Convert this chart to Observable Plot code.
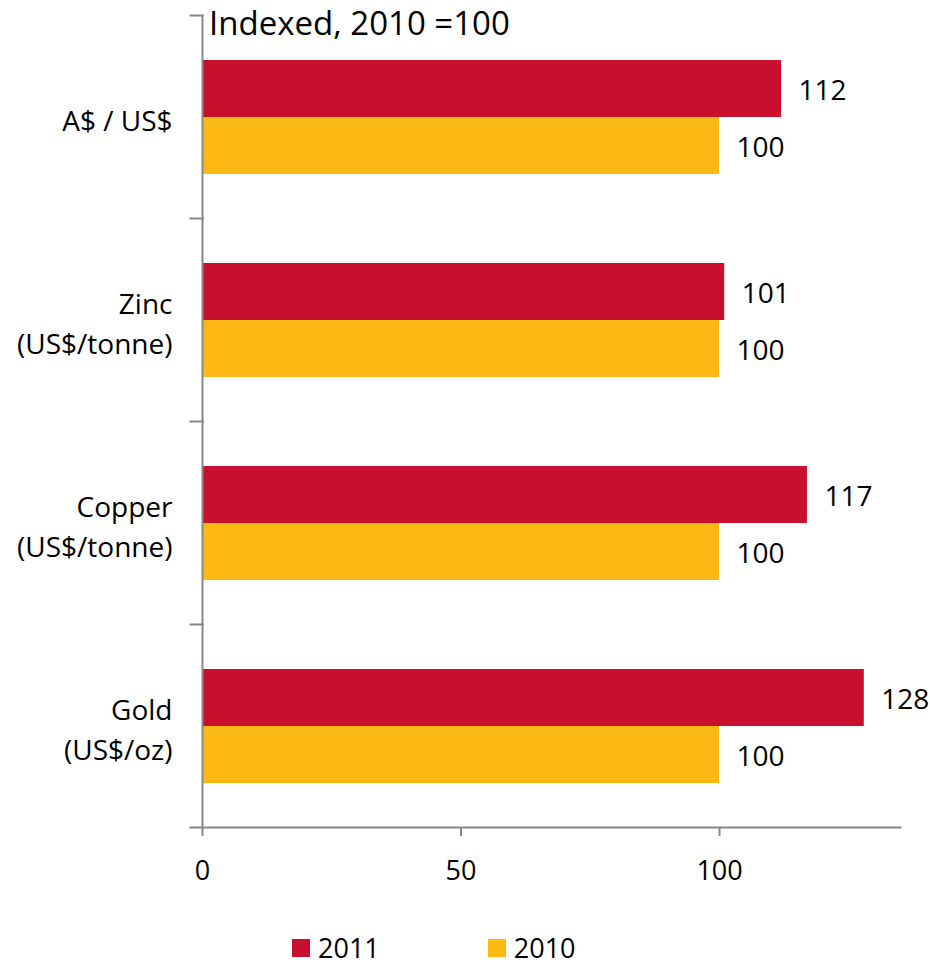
<!DOCTYPE html>
<html>
<head>
<meta charset="utf-8">
<script src="https://cdn.jsdelivr.net/npm/d3@7"></script>
<script src="https://cdn.jsdelivr.net/npm/@observablehq/plot@0.6"></script>
<style>
  html, body { margin: 0; padding: 0; background: #fff; }
  body { position: relative; width: 930px; height: 966px; overflow: hidden; font-family: "Open Sans", sans-serif; }
  #title { position: absolute; left: 209px; top: 0px; font-size: 33px; line-height: 45px; color: #000; white-space: nowrap; }
  #legend { position: absolute; left: 292px; top: 933px; display: flex; align-items: center; font-size: 27px; line-height: 30px; color: #000; }
  .item { display: flex; align-items: center; }
  .sw { width: 18px; height: 18px; margin-right: 8px; }
</style>
</head>
<body>
<div id="chart"></div>
<div id="title">Indexed, 2010 =100</div>
<div id="legend"></div>
<script>
const categories = ["A$ / US$", "Zinc\n(US$/tonne)", "Copper\n(US$/tonne)", "Gold\n(US$/oz)"];
const series = ["2011", "2010"];
const values2011 = [112, 101, 117, 128];
const values2010 = [100, 100, 100, 100];
const xTicks = [0, 50, 100];
const colors = ["#c8102e", "#fdb913"];

const data = categories.flatMap((c, i) => [
  {category: c, series: "2011", value: values2011[i]},
  {category: c, series: "2010", value: values2010[i]}
]);

const W = 930, ML = 202, MR = 30;
const gray = "#878787";

const chart = Plot.plot({
  width: W,
  height: 900,
  marginTop: 14,
  marginLeft: ML,
  marginRight: MR,
  marginBottom: 72,
  style: {fontFamily: "Open Sans", fontSize: "27px", color: "#000", background: "#fff"},
  x: {domain: [0, 135], ticks: xTicks, axis: null},
  y: {domain: series, paddingInner: 0, paddingOuter: 0.754, axis: null},
  fy: {domain: categories, padding: 0, axis: null},
  color: {domain: series, range: colors},
  marks: [
    Plot.barX(data, {x: "value", y: "series", fy: "category", fill: "series"}),
    Plot.text(data, {x: "value", y: "series", fy: "category", text: d => String(d.value),
      textAnchor: "start", dx: 17, dy: 2, fontSize: 28, fill: "#000"}),
    Plot.frame({anchor: "left", stroke: gray, strokeWidth: 2}),
    Plot.frame({anchor: "top", stroke: gray, strokeWidth: 2, insetLeft: -12, insetRight: W - ML - MR}),
    Plot.frame({anchor: "bottom", facetAnchor: "bottom", stroke: gray, strokeWidth: 2, insetLeft: -12}),
    Plot.axisX(xTicks, {tickSize: 9, tickPadding: 24, stroke: gray, strokeWidth: 2, label: null, fontSize: 27}),
    Plot.axisFy({anchor: "left", tickSize: 0, tickPadding: 30, label: null, fontSize: 28, lineHeight: 1.43, dy: 1, tickFormat: d => d})
  ]
});
document.getElementById("chart").appendChild(chart);

const legend = document.getElementById("legend");
series.forEach((s, i) => {
  const it = document.createElement("div");
  it.className = "item";
  it.style.marginRight = i === 0 ? "108px" : "0";
  const sw = document.createElement("div");
  sw.className = "sw";
  sw.style.background = colors[i];
  const t = document.createElement("span");
  t.textContent = s;
  it.appendChild(sw);
  it.appendChild(t);
  legend.appendChild(it);
});
</script>
</body>
</html>
